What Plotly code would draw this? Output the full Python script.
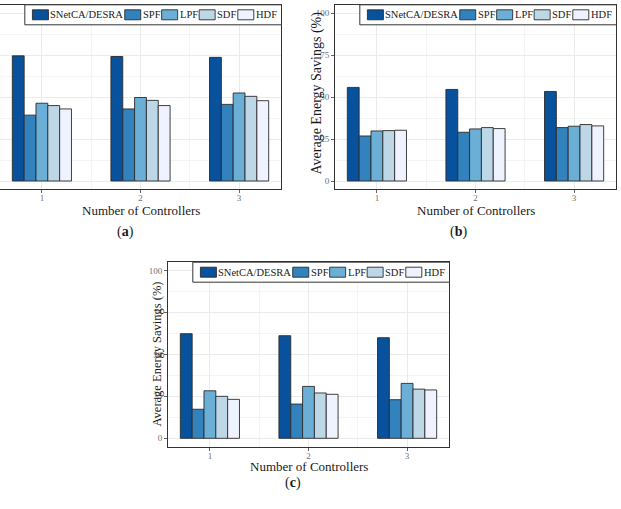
import plotly.graph_objects as go

# ---------------- data ----------------
categories = [1, 2, 3]
tick_labels = ["1", "2", "3"]
series_names = ["SNetCA/DESRA", "SPF", "LPF", "SDF", "HDF"]
series_colors = ["#08519c", "#3182bd", "#6baed6", "#bdd7e7", "#eff3ff"]

# panel (a)
snetca_a = [74.5, 74.1, 73.6]
spf_a = [39.2, 42.9, 45.6]
lpf_a = [46.3, 49.7, 52.4]
sdf_a = [44.9, 48.0, 50.4]
hdf_a = [42.9, 44.9, 47.8]

# panel (b)
snetca_b = [55.7, 54.5, 53.3]
spf_b = [26.8, 29.0, 31.8]
lpf_b = [29.8, 31.0, 32.6]
sdf_b = [30.0, 31.8, 33.6]
hdf_b = [30.2, 31.2, 32.8]

# panel (c)
snetca_c = [62.3, 61.1, 59.9]
spf_c = [17.3, 20.4, 23.0]
lpf_c = [28.3, 30.9, 32.7]
sdf_c = [25.0, 27.0, 29.3]
hdf_c = [23.2, 26.2, 28.8]

y_ticks = [0, 25, 50, 75, 100]
y_title = "Average Energy Savings (%)"
x_title = "Number of Controllers"
captions = ["(<b>a</b>)", "(<b>b</b>)", "(<b>c</b>)"]

panels = [
    [snetca_a, spf_a, lpf_a, sdf_a, hdf_a],
    [snetca_b, spf_b, lpf_b, sdf_b, hdf_b],
    [snetca_c, spf_c, lpf_c, sdf_c, hdf_c],
]

# ---------------- layout helpers ----------------
W, H = 621, 509
FONT = "Liberation Serif"


def px(x):
    return x / W


def py(y):
    return 1 - y / H


# plot frames in pixels: (left, right, top, bottom)
frames = [
    (0.0, 281.0, 4.6, 189.4),
    (335.0, 616.0, 4.6, 189.4),
    (168.0, 449.0, 262.0, 446.7),
]
# panel (a)'s y tick labels fall outside the picture in the reference
show_y_labels = [False, True, True]

fig = go.Figure()

axis_suffix = ["", "2", "3"]
for p, vals in enumerate(panels):
    sfx = axis_suffix[p]
    for name, color, v in zip(series_names, series_colors, vals):
        fig.add_trace(go.Bar(
            x=categories, y=v, name=name,
            marker=dict(color=color, line=dict(color="#2b2b2b", width=0.9)),
            xaxis="x" + sfx, yaxis="y" + sfx, showlegend=False,
        ))

layout = dict(
    width=W, height=H,
    margin=dict(l=0, r=0, t=0, b=0),
    paper_bgcolor="white", plot_bgcolor="white",
    barmode="group", bargap=0.4, bargroupgap=0.0,
    template="none",
    font=dict(family=FONT, color="#1a1a1a"),
    showlegend=False,
)

for p, (l, r, t, b) in enumerate(frames):
    sfx = axis_suffix[p]
    layout["xaxis" + sfx] = dict(
        domain=[px(l), px(r)], anchor="y" + sfx,
        range=[0.575, 3.425], tickmode="array", tickvals=categories, ticktext=tick_labels,
        ticks="outside", ticklen=3, tickcolor="#666666", tickwidth=1,
        tickfont=dict(family=FONT, size=9, color="#707070"),
        ticklabelstandoff=-3,
        showline=True, mirror=True, linecolor="#333333", linewidth=1,
        showgrid=True, gridcolor="#ebebeb", gridwidth=1,
        minor=dict(tickmode="array", tickvals=[1.5, 2.5], showgrid=True,
                   gridcolor="#f4f4f4", gridwidth=0.6, ticks=""),
        zeroline=False, automargin=False, fixedrange=True,
    )
    layout["yaxis" + sfx] = dict(
        domain=[py(b), py(t)], anchor="x" + sfx,
        range=[-5, 105], tickmode="array", tickvals=y_ticks,
        ticks="outside", ticklen=3, tickcolor="#666666", tickwidth=1,
        showticklabels=show_y_labels[p],
        tickfont=dict(family=FONT, size=9, color="#707070"),
        showline=True, mirror=True, linecolor="#333333", linewidth=1,
        showgrid=True, gridcolor="#ebebeb", gridwidth=1,
        minor=dict(tickmode="array", tickvals=[12.5, 37.5, 62.5, 87.5], showgrid=True,
                   gridcolor="#f4f4f4", gridwidth=0.6, ticks=""),
        zeroline=False, automargin=False, fixedrange=True,
    )

fig.update_layout(**layout)

# ---------------- manual legends (ggplot-style, inside top-right) ----------------
TIMES_W = {'S': .556, 'N': .722, 'e': .444, 't': .278, 'C': .667, 'A': .722, '/': .278,
           'D': .722, 'E': .611, 'R': .667, 'P': .556, 'F': .556, 'L': .611, 'H': .722}
LEG_FS = 10.5


def text_w(s):
    return sum(TIMES_W.get(c, 0.5) for c in s) * LEG_FS


shapes = []
annotations = []
SW_W, SW_H, PAD_L, PAD_R, GAP_T, GAP_N, BOX_H = 16.0, 10.0, 7.6, 5.7, 1.0, 2.4, 20.0
for (l, r, t, b) in frames:
    widths = [text_w(s) for s in series_names]
    box_w = PAD_L + sum(SW_W + GAP_T + w + GAP_N for w in widths) - GAP_N + PAD_R
    box_r = r + 0.5
    box_l = box_r - box_w
    box_t = t + 0.2
    box_b = box_t + BOX_H
    shapes.append(dict(type="rect", xref="paper", yref="paper",
                       x0=px(box_l), x1=px(box_r), y0=py(box_b), y1=py(box_t),
                       line=dict(color="#333333", width=1), fillcolor="white", layer="above"))
    x = box_l + PAD_L
    cy = (box_t + box_b) / 2
    for name, color, w in zip(series_names, series_colors, widths):
        shapes.append(dict(type="rect", xref="paper", yref="paper",
                           x0=px(x), x1=px(x + SW_W), y0=py(cy + SW_H / 2), y1=py(cy - SW_H / 2),
                           line=dict(color="#2b2b2b", width=0.9), fillcolor=color, layer="above"))
        annotations.append(dict(xref="paper", yref="paper", x=px(x + SW_W + GAP_T), y=py(cy),
                                xanchor="left", yanchor="middle", showarrow=False, borderpad=0,
                                text=name, font=dict(family=FONT, size=LEG_FS, color="#1a1a1a")))
        x += SW_W + GAP_T + w + GAP_N

# ---------------- titles & captions ----------------
x_title_pos = [(140.5, 210.0), (475.5, 210.0), (308.5, 466.5)]
for (xx, yy) in x_title_pos:
    annotations.append(dict(xref="paper", yref="paper", x=px(xx), y=py(yy),
                            xanchor="center", yanchor="middle", showarrow=False,
                            text=x_title, font=dict(family=FONT, size=13, color="#1a1a1a")))

y_title_pos = [(316.5, 93.0, 14), (156.5, 354.0, 12.5)]
for (xx, yy, fs) in y_title_pos:
    annotations.append(dict(xref="paper", yref="paper", x=px(xx), y=py(yy),
                            xanchor="center", yanchor="middle", showarrow=False, textangle=-90,
                            text=y_title, font=dict(family=FONT, size=fs, color="#1a1a1a")))

caption_pos = [(125.0, 232.0), (458.5, 232.0), (293.0, 482.5)]
for cap, (xx, yy) in zip(captions, caption_pos):
    annotations.append(dict(xref="paper", yref="paper", x=px(xx), y=py(yy),
                            xanchor="center", yanchor="middle", showarrow=False,
                            text=cap, font=dict(family=FONT, size=14, color="#1a1a1a")))

fig.update_layout(shapes=shapes, annotations=annotations)

fig.write_html("out.html")
